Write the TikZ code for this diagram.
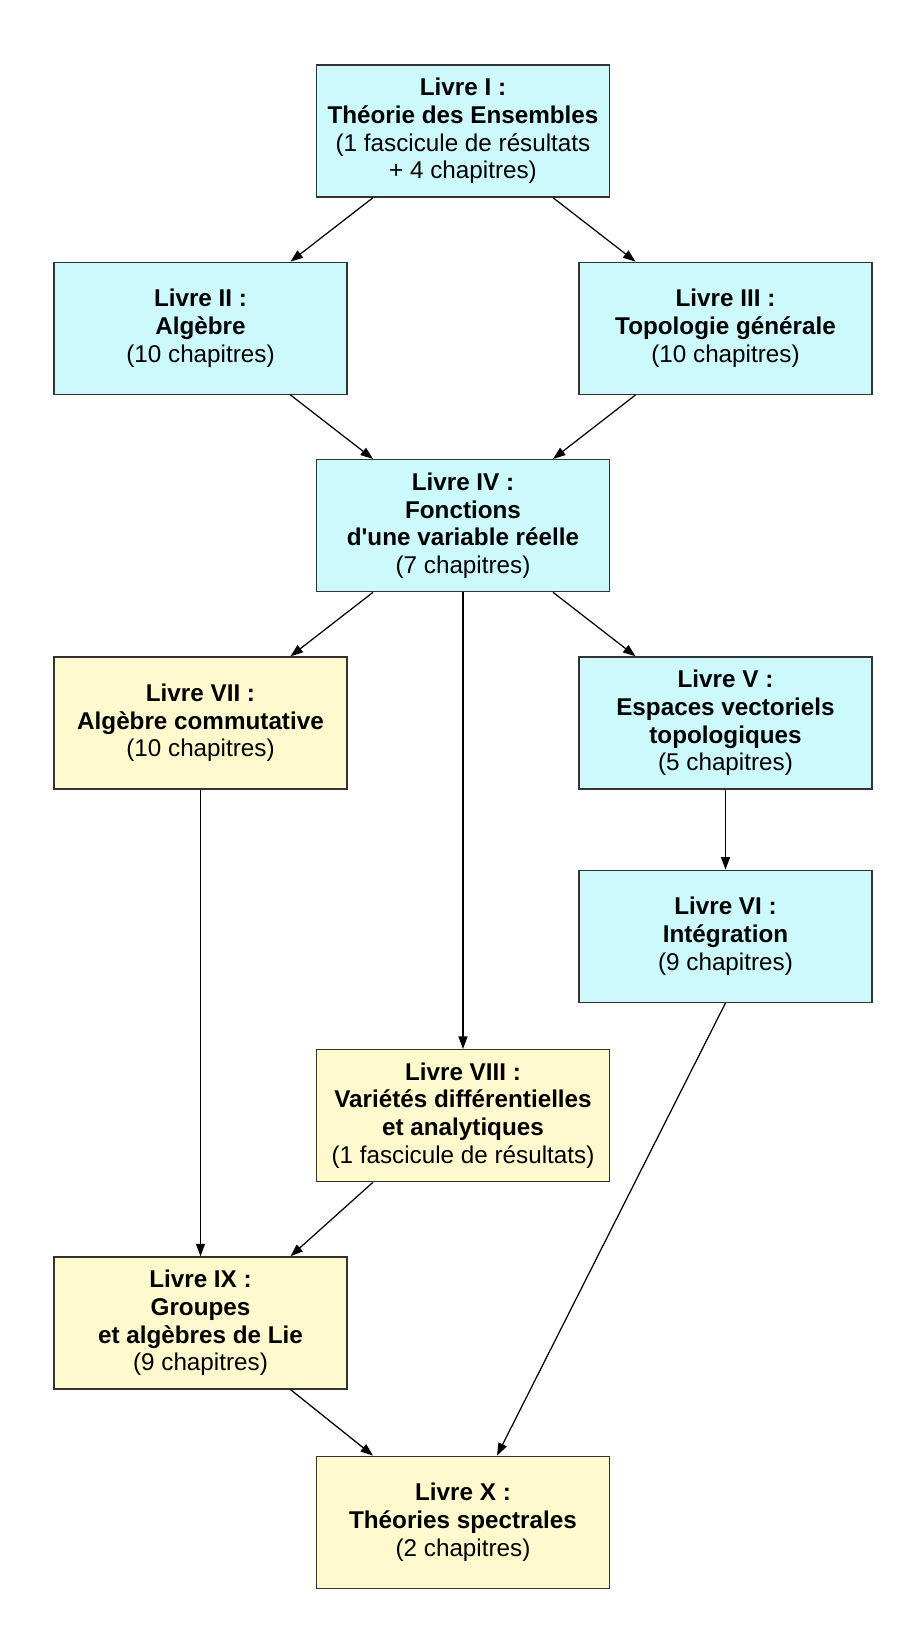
\documentclass[tikz,border=0pt]{standalone}
\usepackage{fontspec}
\setmainfont{Liberation Sans}
\usepackage{tikz}
\usetikzlibrary{positioning, arrows.meta}

\definecolor{fondbleu}{RGB}{204,250,252}
\definecolor{fondjaune}{RGB}{255,250,206}

\tikzset{
	livre/.style={rectangle, draw=black!80, line width=0.75pt, align=center,
		minimum width=5.86cm, minimum height=2.64cm, inner sep=0pt,
		font=\fontsize{13.8}{15.8}\selectfont},
	tronc/.style={livre, fill=fondbleu},
	suite/.style={livre, fill=fondjaune},
	fleche/.style={-{Triangle[length=0.25cm, width=0.18cm]}, line width=0.7pt}
}

\begin{document}
\begin{tikzpicture}
			\useasboundingbox (0,0) rectangle (18.26,-32.74);
			% Nodes
			\node (I) [tronc] at (9.26,-2.62) {\textbf{Livre I :}\\ \textbf{Théorie des Ensembles}\\ (1 fascicule de résultats\\ + 4 chapitres)};
			\node (II) [tronc, below=1.28cm of I, xshift=-5.25cm] {\textbf{Livre II :}\\ \textbf{Algèbre}\\ (10 chapitres)};
			\node (III) [tronc, below=1.28cm of I, xshift=5.25cm] {\textbf{Livre III :}\\ \textbf{Topologie générale}\\ (10 chapitres)};
			\node (IV) [tronc, below=1.28cm of II, xshift=5.25cm] {\textbf{Livre IV :}\\ \textbf{Fonctions}\\ \textbf{d\textquotesingle une variable réelle}\\ (7 chapitres)};
			\node (VII) [suite, below=1.28cm of IV, xshift=-5.25cm] {\textbf{Livre VII :}\\ \textbf{Algèbre commutative}\\ (10 chapitres)};
			\node (V) [tronc, below=1.28cm of IV, xshift=5.25cm] {\textbf{Livre V :}\\ \textbf{Espaces vectoriels}\\ \textbf{topologiques}\\ (5 chapitres)};
			\node (VI) [tronc, below=1.6cm of V] {\textbf{Livre VI :}\\ \textbf{Intégration}\\ (9 chapitres)};
			\node (VIII) [suite, below=0.92cm of VI, xshift=-5.25cm] {\textbf{Livre VIII :}\\ \textbf{Variétés différentielles}\\ \textbf{et analytiques}\\ (1 fascicule de résultats)};
			\node (IX) [suite, below=1.48cm of VIII, xshift=-5.25cm] {\textbf{Livre IX :}\\ \textbf{Groupes}\\ \textbf{et algèbres de Lie}\\ (9 chapitres)};
			\node (X) [suite, below=1.32cm of IX, xshift=5.25cm] {\textbf{Livre X :}\\ \textbf{Théories spectrales}\\ (2 chapitres)};
			
			% Edges
			\draw [fleche] ([xshift=-1.8cm]I.south) -- ([xshift=1.8cm]II.north);
			\draw [fleche] ([xshift=1.8cm]I.south) -- ([xshift=-1.8cm]III.north);
			\draw [fleche] ([xshift=1.8cm]II.south) -- ([xshift=-1.8cm]IV.north);
			\draw [fleche] ([xshift=-1.8cm]III.south) -- ([xshift=1.8cm]IV.north);
			\draw [fleche] ([xshift=-1.8cm]IV.south) -- ([xshift=1.8cm]VII.north);
			\draw [fleche] (IV) -- (VIII);
			\draw [fleche] ([xshift=1.8cm]IV.south) -- ([xshift=-1.8cm]V.north);
			\draw [fleche] (V) -- (VI);
			\draw [fleche] (VII) -- (IX);
			\draw [fleche] ([xshift=-1.8cm]VIII.south) -- ([xshift=1.8cm]IX.north);
			\draw [fleche] (VI.south) -- ([xshift=0.68cm]X.north);
			\draw [fleche] ([xshift=1.8cm]IX.south) -- ([xshift=-1.8cm]X.north);

		\end{tikzpicture}
\end{document}
